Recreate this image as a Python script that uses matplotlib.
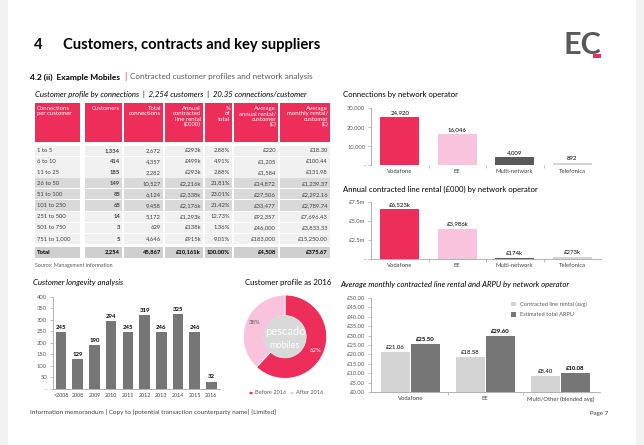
import numpy as np
import matplotlib.pyplot as plt
from matplotlib.patches import Rectangle, Circle

plt.rcParams['font.family'] = ['Lato', 'DejaVu Sans']

# ---- data ----
row_labels = ['1 to 5', '6 to 10', '11 to 25', '26 to 50', '51 to 100',
              '101 to 250', '251 to 500', '501 to 750', '751 to 1,000']
customers = [1334, 414, 185, 149, 85, 65, 14, 3, 5]
connections = [2672, 4357, 2282, 10527, 6124, 9458, 5172, 629, 4646]
rental_k = [293, 499, 293, 2216, 2338, 2176, 1293, 138, 915]

operators = ['Vodafone', 'EE', 'Multi-network', 'Telefonica']
conn_by_op = [24920, 16046, 4009, 892]
rental_by_op = [6523, 3986, 174, 273]

years = ['<2008', '2008', '2009', '2010', '2011', '2012', '2013', '2014', '2015', '2016']
longevity = [245, 129, 190, 294, 245, 319, 246, 325, 246, 32]

profile_labels = ['Before 2016', 'After 2016']
profile_pct = [62, 38]

arpu_groups = ['Vodafone', 'EE', 'Multi/Other (blended avg)']
line_rental = [21.06, 18.58, 8.40]
total_arpu = [25.50, 29.60, 10.08]

# ---- styling ----
W, H = 644, 445
PINK = '#ee2e5a'
LPINK = '#f9c3de'
DGRAY = '#595959'
BGRAY = '#767676'
LGRAY = '#d4d4d4'
TXT = '#404040'
TS = 5.6   # section title size
LS = 4.2   # axis label size

fig = plt.figure(figsize=(6.44, 4.45), dpi=100)
fig.patch.set_facecolor('#f2f2f2')


def fx(x):
    return x / W


def fy(y):
    return 1 - y / H


def box(x0, y0, x1, y1, color, z=-1):
    fig.patches.append(Rectangle((fx(x0), fy(y1)), (x1 - x0) / W, (y1 - y0) / H,
                                 transform=fig.transFigure, facecolor=color,
                                 edgecolor='none', zorder=z))


def txt(x, y, s, **kw):
    kw.setdefault('va', 'center')
    fig.text(fx(x), fy(y), s, **kw)


def axes_px(x0, y0, x1, y1):
    return fig.add_axes([fx(x0), fy(y1), (x1 - x0) / W, (y1 - y0) / H])


def style_ax(ax):
    for s in ['top', 'right']:
        ax.spines[s].set_visible(False)
    for s in ['left', 'bottom']:
        ax.spines[s].set_color('#a6a6a6')
        ax.spines[s].set_linewidth(0.6)
    ax.tick_params(axis='y', labelsize=LS, labelcolor=DGRAY, length=2,
                   width=0.5, color='#a6a6a6', pad=2)
    ax.tick_params(axis='x', labelsize=LS, labelcolor=TXT, length=0, pad=3)
    ax.set_facecolor('none')


# page
box(8, 0, 636, 445, 'white', z=-2)

# header
txt(34, 45, '4', fontsize=10.6, fontweight='bold', color='black')
txt(63, 45, 'Customers, contracts and key suppliers', fontsize=10.6,
    fontweight='bold', color='black')
txt(601, 45, 'EC', fontsize=22, fontweight='bold', color=DGRAY, ha='right')
box(593, 54, 601, 58, PINK, z=3)

txt(30, 77, '4.2 (ii)  Example Mobiles', fontsize=6, fontweight='bold', color='black')
txt(124, 77, '|', fontsize=7, color=PINK)
txt(130, 77, 'Contracted customer profiles and network analysis', fontsize=5.9,
    color=DGRAY)

# ---- table ----
tot_cust = sum(customers)
tot_conn = sum(connections)
tot_rent = sum(rental_k)
txt(35, 94, 'Customer profile by connections  |  {:,} customers  |  {:.2f} connections/customer'
    .format(tot_cust, tot_conn / tot_cust), fontsize=TS, style='italic', color='black')

cols = [(35, 80), (85, 122), (124, 163), (165, 203), (205, 232), (234, 278), (280, 330)]
heads = ['Connections\nper customer', 'Customers', 'Total\nconnections',
         'Annual\ncontracted\nline rental\n(£000)', '%\nof\ntotal',
         'Average\nannual rental/\ncustomer\n(£)', 'Average\nmonthly rental/\ncustomer\n(£)']
for i, (a, b) in enumerate(cols):
    box(a, 103, b, 142, PINK)
    if i == 0:
        txt(a + 2, 106, heads[i], fontsize=4.3, color='white', va='top', ha='left',
            linespacing=1.1)
    else:
        txt(b - 2, 106, heads[i], fontsize=4.3, color='white', va='top', ha='right',
            linespacing=1.1, multialignment='right')


def row_vals(lab, c, n, r):
    ann = r * 1000 / c
    return [lab, '{:,}'.format(c), '{:,}'.format(n), '£{:,}k'.format(r),
            '{:.2f}%'.format(100 * r / tot_rent), '£{:,.0f}'.format(ann),
            '£{:,.2f}'.format(ann / 12)]


row_y = [150.7, 161.6, 172.5, 183.3, 194.3, 205.5, 216.8, 228.0, 239.2]
for k in range(len(row_labels)):
    shade = '#d9d9d9' if 3 <= k <= 5 else '#f0f0f0'
    vals = row_vals(row_labels[k], customers[k], connections[k], rental_k[k])
    y = row_y[k]
    for i, (a, b) in enumerate(cols):
        box(a, y - 5, b, y + 5, shade)
        if i == 0:
            txt(a + 2, y, vals[i], fontsize=4.2, color=TXT, ha='left')
        else:
            txt(b - 2, y, vals[i], fontsize=4.2, color=TXT, ha='right',
                fontweight='bold' if i == 1 else 'normal')

vals = row_vals('Total', tot_cust, tot_conn, tot_rent)
vals[4] = '100.00%'
for i, (a, b) in enumerate(cols):
    box(a, 246.5, b, 257.5, '#cfcfcf')
    if i == 0:
        txt(a + 2, 252, vals[i], fontsize=4.2, color='black', ha='left', fontweight='bold')
    else:
        txt(b - 2, 252, vals[i], fontsize=4.2, color='black', ha='right', fontweight='bold')
txt(35, 265, 'Source: Management information', fontsize=3.8, color=DGRAY)

# ---- connections by operator ----
op_colors = [PINK, LPINK, DGRAY, LGRAY]
txt(343, 95, 'Connections by network operator', fontsize=TS, color='black')
ax1 = axes_px(371, 107.7, 601, 165)
x = np.arange(len(operators))
ax1.bar(x, conn_by_op, width=0.67, color=op_colors)
for xi, v in zip(x, conn_by_op):
    ax1.text(xi, v + 1200, '{:,}'.format(v), ha='center', va='bottom', fontsize=4.3,
             color='black')
ax1.set_xlim(-0.5, 3.5)
ax1.set_ylim(0, 30000)
ax1.set_yticks([0, 10000, 20000, 30000])
ax1.set_yticklabels(['-', '10,000', '20,000', '30,000'])
ax1.set_xticks(x)
ax1.set_xticklabels(operators)
ax1.set_xticks([0.5, 1.5, 2.5], minor=True)
style_ax(ax1)
ax1.tick_params(axis='x', which='minor', length=2, width=0.5, color='#a6a6a6')
ax1.spines['bottom'].set_visible(False)

# ---- rental by operator ----
txt(343, 189, 'Annual contracted line rental (£000) by network operator', fontsize=TS,
    color='black')
ax2 = axes_px(371, 201.7, 601, 259.3)
ax2.bar(x, rental_by_op, width=0.67, color=op_colors)
for xi, v in zip(x, rental_by_op):
    ax2.text(xi, v + 300, '£{:,}k'.format(v), ha='center', va='bottom', fontsize=4.3,
             color='black')
ax2.set_xlim(-0.5, 3.5)
ax2.set_ylim(0, 7500)
ax2.set_yticks([0, 2500, 5000, 7500])
ax2.set_yticklabels(['-', '£2.5m', '£5.0m', '£7.5m'])
ax2.set_xticks(x)
ax2.set_xticklabels(operators)
ax2.set_xticks([0.5, 1.5, 2.5], minor=True)
style_ax(ax2)
ax2.tick_params(axis='x', which='minor', length=2, width=0.5, color='#a6a6a6')

# ---- longevity ----
txt(33, 283, 'Customer longevity analysis', fontsize=TS, style='italic', color='black')
ax3 = axes_px(52.7, 296.7, 219.7, 389)
xl = np.arange(len(years))
ax3.bar(xl, longevity, width=0.64, color=BGRAY)
for xi, v in zip(xl, longevity):
    ax3.text(xi, v + 10, str(v), ha='center', va='bottom', fontsize=4.3,
             color='black', fontweight='bold')
ax3.set_xlim(-0.5, 9.5)
ax3.set_ylim(0, 400)
ax3.set_yticks(np.arange(0, 401, 50))
ax3.set_yticklabels(['-'] + [str(v) for v in range(50, 401, 50)])
ax3.set_xticks(xl)
ax3.set_xticklabels(years)
style_ax(ax3)
ax3.tick_params(axis='x', labelsize=3.9)

# ---- donut ----
txt(288, 283, 'Customer profile as 2016', fontsize=TS, color='black', ha='center')
ax4 = axes_px(243.3, 295, 326.7, 378.4)
ax4.pie(profile_pct, colors=[PINK, LPINK], startangle=90, counterclock=False,
        radius=1, wedgeprops=dict(width=0.5, edgecolor='white', linewidth=0.6))
ax4.add_patch(Circle((0, 0), 0.5, color='#d9d9d9', zorder=3))
ax4.text(0, 0.12, 'pescado', ha='center', va='center', fontsize=8, color='white', zorder=4)
ax4.text(0, -0.22, 'mobiles', ha='center', va='center', fontsize=6.5, color='white', zorder=4)
ax4.text(0.74, -0.33, '{}%'.format(profile_pct[0]), ha='center', va='center',
         fontsize=4.3, color='white', zorder=4)
ax4.text(-0.72, 0.33, '{}%'.format(profile_pct[1]), ha='center', va='center',
         fontsize=4.3, color=DGRAY, zorder=4)
ax4.set_xlim(-1, 1)
ax4.set_ylim(-1, 1)
ax4.set_aspect('equal')
ax4.axis('off')
for lx, lab, c in [(251, profile_labels[0], PINK), (292, profile_labels[1], LPINK)]:
    fig.patches.append(Circle((fx(lx), fy(393)), 1.7 / W, transform=fig.transFigure,
                              facecolor=c, edgecolor='none'))
    txt(lx + 4, 393, lab, fontsize=4.1, color=DGRAY)

# ---- ARPU ----
txt(340, 284, 'Average monthly contracted line rental and ARPU by network operator',
    fontsize=TS, style='italic', color='black')
ax5 = axes_px(370.7, 297.7, 600, 392.3)
xg = np.arange(len(arpu_groups))
ax5.bar(xg - 0.2, line_rental, width=0.39, color=LGRAY, label='Contracted line rental (avg)')
ax5.bar(xg + 0.2, total_arpu, width=0.39, color=BGRAY, label='Estimated total ARPU')
for xi, a, b in zip(xg, line_rental, total_arpu):
    ax5.text(xi - 0.2, a + 1.2, '£{:.2f}'.format(a), ha='center', va='bottom',
             fontsize=4.3, color='black')
    ax5.text(xi + 0.2, b + 1.2, '£{:.2f}'.format(b), ha='center', va='bottom',
             fontsize=4.3, color='black', fontweight='bold')
ax5.set_xlim(-0.53, 2.53)
ax5.set_ylim(0, 50)
ax5.set_yticks(np.arange(0, 51, 5))
ax5.set_yticklabels(['£{:.2f}'.format(v) for v in range(0, 51, 5)])
ax5.set_xticks(xg)
ax5.set_xticklabels(arpu_groups)
ax5.set_xticks([0.5, 1.5], minor=True)
style_ax(ax5)
ax5.tick_params(axis='x', which='minor', length=2, width=0.5, color='#a6a6a6')
ax5.legend(loc='upper right', bbox_to_anchor=(0.96, 1.0), fontsize=4.1, frameon=False,
           handlelength=0.8, handleheight=0.8, labelcolor=DGRAY, borderaxespad=0.3,
           labelspacing=0.9)

# footer
txt(30, 412, 'Information memorandum | Copy to [potential transaction counterparty name] [Limited]',
    fontsize=4.6, color=TXT)
txt(608, 413, 'Page 7', fontsize=4.4, color=TXT, ha='right')

plt.savefig('out.png', dpi=100, facecolor=fig.get_facecolor())
